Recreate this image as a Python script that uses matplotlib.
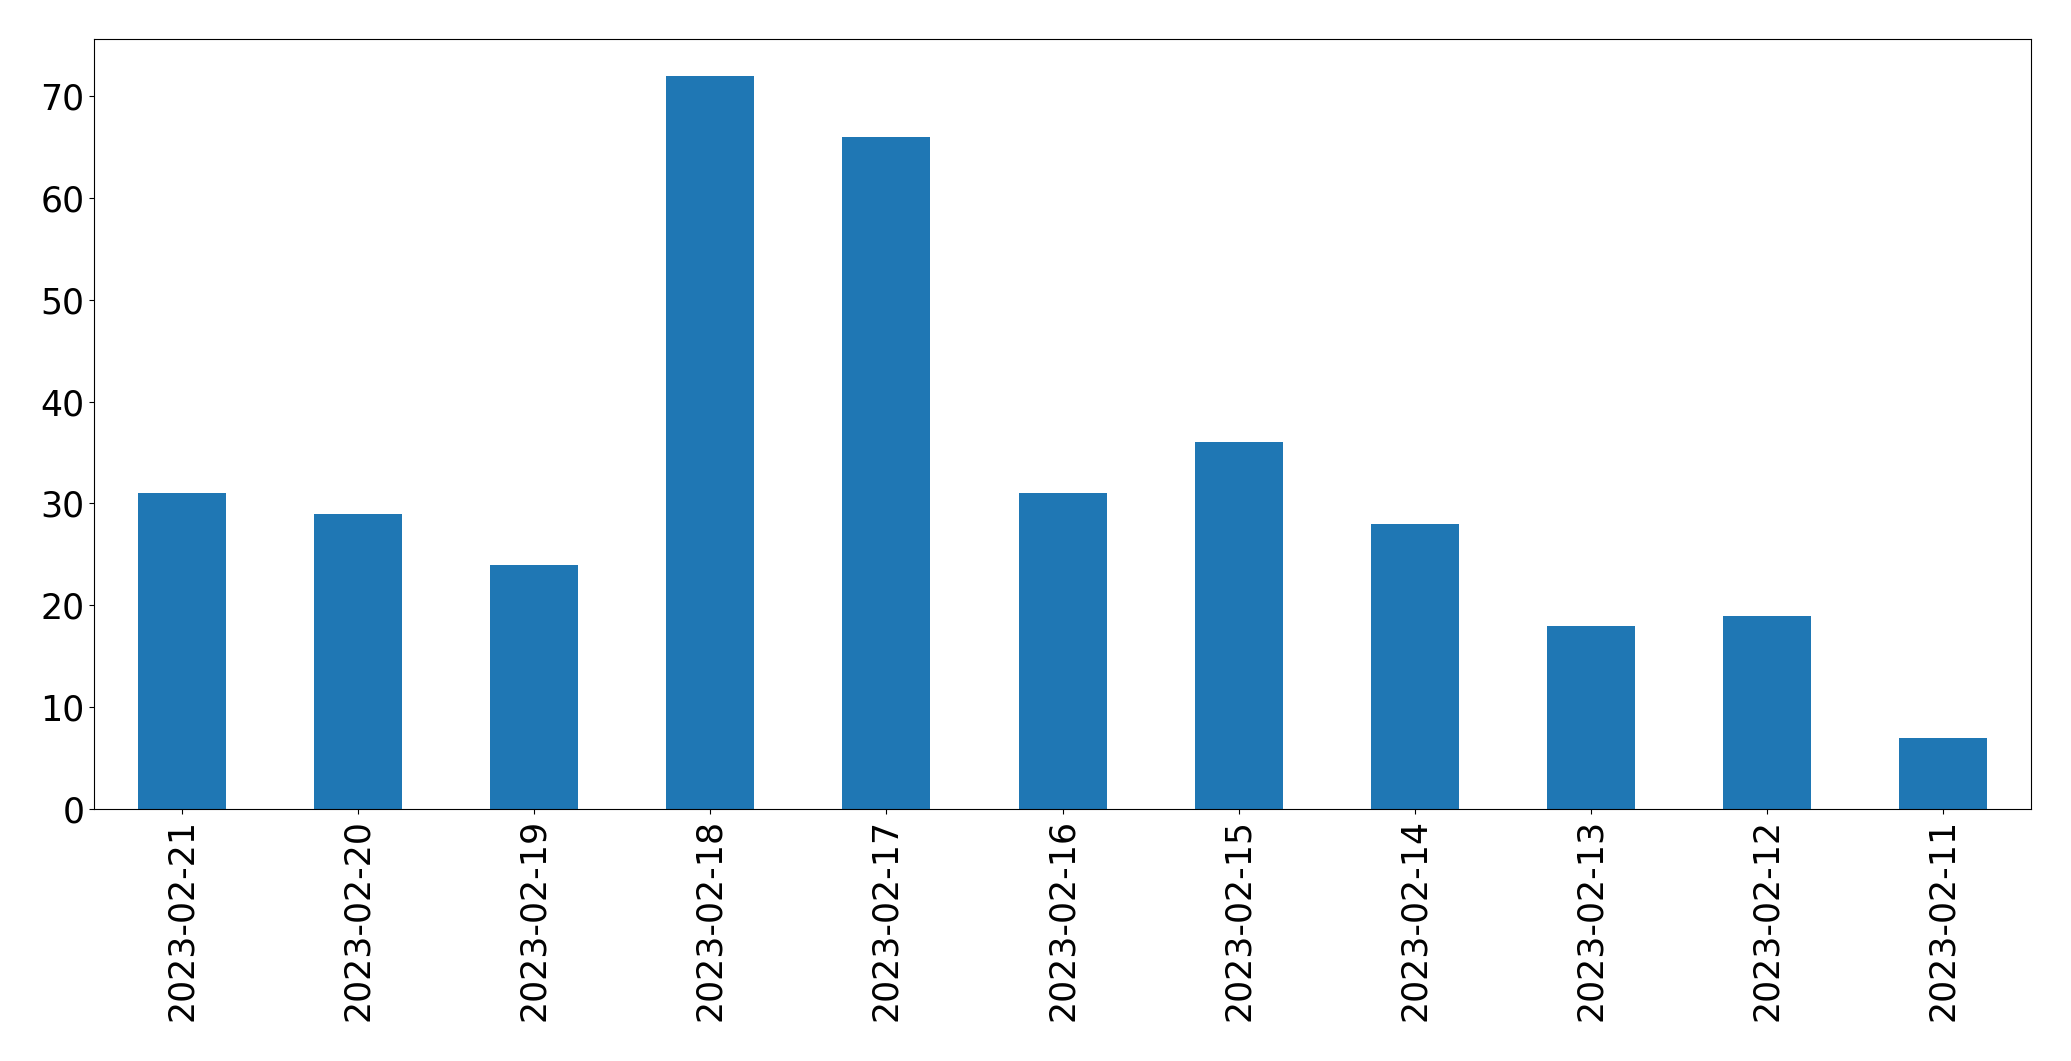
import matplotlib
matplotlib.use("Agg")
import matplotlib.pyplot as plt

dates = ["2023-02-21", "2023-02-20", "2023-02-19", "2023-02-18", "2023-02-17",
         "2023-02-16", "2023-02-15", "2023-02-14", "2023-02-13", "2023-02-12", "2023-02-11"]
counts = [31, 29, 24, 72, 66, 31, 36, 28, 18, 19, 7]

fig = plt.figure(figsize=(20.71, 10.61), dpi=100)
ax = fig.add_axes([0.0454, 0.2375, 0.9353, 0.7257])
x = list(range(len(dates)))
ax.bar(x, counts, width=0.5, color="#1f77b4")
ax.set_xlim(-0.5, len(dates) - 0.5)
ax.set_ylim(0, max(counts) * 1.05)
ax.set_xticks(x)
ax.set_xticklabels(dates, rotation=90)
ax.tick_params(axis="both", labelsize=25)
fig.savefig("out.png", dpi=100)
